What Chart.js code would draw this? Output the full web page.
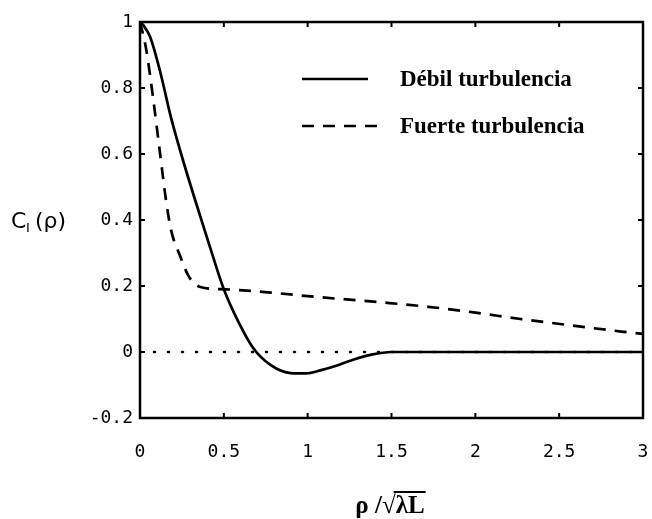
<!DOCTYPE html>
<html>
<head>
<meta charset="utf-8">
<script src="https://cdn.jsdelivr.net/npm/chart.js@4"></script>
<style>
    html, body { margin: 0; padding: 0; background: #fff; }
    #wrap { width: 652px; height: 519px; }
</style>
</head>
<body>
<div id="wrap"><canvas id="chart" width="652" height="519"></canvas></div>
<script>
// Curve readings (rho / sqrt(lambda L) vs C_I(rho))
const rhoWeak = [0, 0.02, 0.06, 0.12, 0.185, 0.26, 0.36, 0.41, 0.5, 0.59, 0.675, 0.78, 0.9, 0.99, 1.08, 1.18, 1.28, 1.38, 1.5, 2, 2.5, 3];
const weak = [1, 0.99, 0.955, 0.85, 0.71, 0.575, 0.41, 0.33, 0.19, 0.088, 0.012, -0.04, -0.064, -0.065, -0.055, -0.04, -0.022, -0.008, 0, 0, 0, 0];

const rhoStrong = [0, 0.015, 0.036, 0.078, 0.12, 0.155, 0.185, 0.24, 0.29, 0.36, 0.51, 0.78, 1.05, 1.45, 1.72, 1.99, 2.27, 2.55, 2.87, 3];
const strong = [1, 0.97, 0.92, 0.77, 0.6, 0.46, 0.37, 0.29, 0.23, 0.197, 0.19, 0.18, 0.167, 0.15, 0.137, 0.12, 0.1, 0.082, 0.062, 0.055];

const rhoZero = [0, 3];
const zeroLine = [0, 0];

const xTicks = [0, 0.5, 1, 1.5, 2, 2.5, 3];
const yTicks = [-0.2, 0, 0.2, 0.4, 0.6, 0.8, 1];

const legendLabels = ['Débil turbulencia', 'Fuerte turbulencia'];

function toPoints(xs, ys) {
    return xs.map((x, i) => ({ x: x, y: ys[i] }));
}

// White background
const bgPlugin = {
    id: 'bg',
    beforeDraw(chart) {
        const ctx = chart.ctx;
        ctx.save();
        ctx.fillStyle = '#fff';
        ctx.fillRect(0, 0, chart.width, chart.height);
        ctx.restore();
    }
};

// Frame, inward ticks, legend and axis titles
const framePlugin = {
    id: 'frame',
    afterDraw(chart) {
        const ctx = chart.ctx;
        const a = chart.chartArea;
        const xs = chart.scales.x;
        const ys = chart.scales.y;
        ctx.save();
        ctx.strokeStyle = '#000';
        ctx.lineWidth = 2.5;
        ctx.strokeRect(a.left, a.top, a.right - a.left, a.bottom - a.top);

        ctx.lineWidth = 2;
        const len = 5;
        ctx.beginPath();
        xTicks.forEach(v => {
            const px = xs.getPixelForValue(v);
            ctx.moveTo(px, a.bottom); ctx.lineTo(px, a.bottom - len);
            ctx.moveTo(px, a.top); ctx.lineTo(px, a.top + len);
        });
        yTicks.forEach(v => {
            const py = ys.getPixelForValue(v);
            ctx.moveTo(a.left, py); ctx.lineTo(a.left + len, py);
            ctx.moveTo(a.right, py); ctx.lineTo(a.right - len, py);
        });
        ctx.stroke();

        // Legend
        ctx.fillStyle = '#000';
        ctx.font = 'bold 23px "Liberation Serif"';
        ctx.textBaseline = 'middle';
        ctx.textAlign = 'left';
        ctx.lineWidth = 2.5;
        ctx.beginPath();
        ctx.moveTo(302, 79); ctx.lineTo(368, 79);
        ctx.stroke();
        ctx.setLineDash([12, 9]);
        ctx.beginPath();
        ctx.moveTo(302, 126); ctx.lineTo(378, 126);
        ctx.stroke();
        ctx.setLineDash([]);
        ctx.fillText(legendLabels[0], 400, 80);
        ctx.fillText(legendLabels[1], 400, 127);

        // Y title: C_I (rho)
        ctx.font = '22px "DejaVu Sans"';
        ctx.fillText('C', 11, 222);
        ctx.font = '13px "DejaVu Sans"';
        ctx.fillText('I', 26, 229);
        ctx.font = '22px "DejaVu Sans"';
        ctx.fillText('(ρ)', 35, 222);

        // X title: rho / sqrt(lambda L)
        ctx.font = 'bold 25px "Liberation Serif"';
        const p1 = 'ρ /√', p2 = 'λL';
        const w0 = ctx.measureText(p1).width;
        const w1 = ctx.measureText(p2).width;
        const x0 = 390 - (w0 + w1) / 2;
        ctx.fillText(p1, x0, 507);
        ctx.fillText(p2, x0 + w0, 507);
        ctx.lineWidth = 2;
        ctx.beginPath();
        ctx.moveTo(x0 + w0 - 2, 492);
        ctx.lineTo(x0 + w0 + w1 + 1, 492);
        ctx.stroke();
        ctx.restore();
    }
};

new Chart(document.getElementById('chart').getContext('2d'), {
    type: 'line',
    data: {
        datasets: [
            {
                label: 'zero',
                data: toPoints(rhoZero, zeroLine),
                borderColor: '#000',
                borderWidth: 2.5,
                borderDash: [1, 13],
                borderCapStyle: 'round',
                pointRadius: 0,
                fill: false
            },
            {
                label: legendLabels[0],
                data: toPoints(rhoWeak, weak),
                borderColor: '#000',
                borderWidth: 2.7,
                pointRadius: 0,
                cubicInterpolationMode: 'monotone',
                fill: false
            },
            {
                label: legendLabels[1],
                data: toPoints(rhoStrong, strong),
                borderColor: '#000',
                borderWidth: 2.7,
                borderDash: [12, 9],
                pointRadius: 0,
                cubicInterpolationMode: 'monotone',
                fill: false
            }
        ]
    },
    options: {
        responsive: false,
        animation: false,
        layout: {
            padding: { left: 0, right: 9, top: 22, bottom: 0 }
        },
        plugins: {
            legend: { display: false },
            tooltip: { enabled: false }
        },
        scales: {
            x: {
                type: 'linear',
                min: 0,
                max: 3,
                afterFit(scale) {
                    scale.height = 101;
                    scale.paddingLeft = 0;
                    scale.paddingRight = 0;
                },
                afterBuildTicks(scale) { scale.ticks = xTicks.map(v => ({ value: v })); },
                grid: { display: false, drawTicks: false },
                border: { display: false },
                ticks: {
                    padding: 24,
                    color: '#000',
                    font: { family: '"DejaVu Sans Mono"', size: 18 },
                    callback: v => String(v)
                }
            },
            y: {
                type: 'linear',
                min: -0.2,
                max: 1,
                afterFit(scale) {
                    scale.width = 140;
                    scale.paddingTop = 0;
                    scale.paddingBottom = 0;
                },
                afterBuildTicks(scale) { scale.ticks = yTicks.map(v => ({ value: v })); },
                grid: { display: false, drawTicks: false },
                border: { display: false },
                ticks: {
                    padding: 7,
                    color: '#000',
                    font: { family: '"DejaVu Sans Mono"', size: 18 },
                    callback: v => String(Math.round(v * 10) / 10)
                }
            }
        }
    },
    plugins: [bgPlugin, framePlugin]
});
</script>
</body>
</html>
